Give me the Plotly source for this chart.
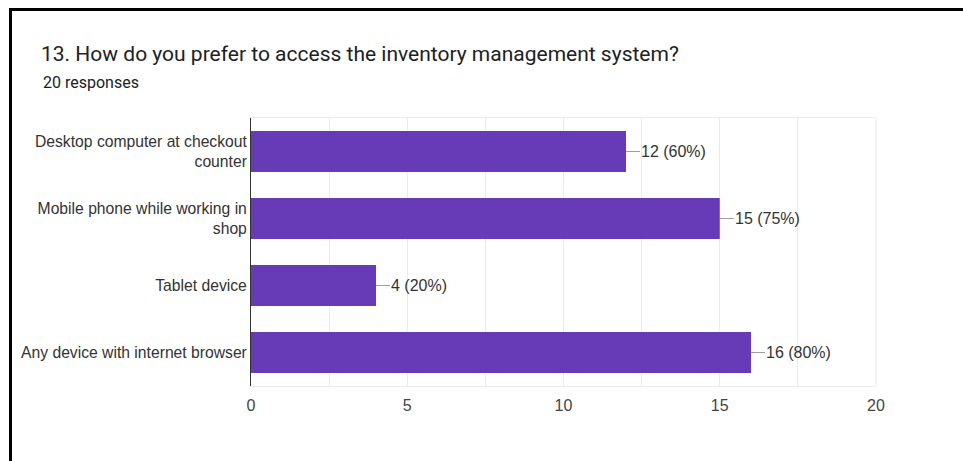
import plotly.graph_objects as go

# Survey results: preferred way of accessing the inventory system
categories = [
    "Desktop computer at checkout<br>counter",
    "Mobile phone while working in<br>shop",
    "Tablet device",
    "Any device with internet browser",
]
counts = [12, 15, 4, 16]
total_responses = 20
x_tick_values = [0, 5, 10, 15, 20]

title_text = "13. How do you prefer to access the inventory management system?"
subtitle_text = f"{total_responses} responses"

W, H = 963, 461
M_L, M_R, M_T, M_B = 251, 87, 118, 75
plot_w = W - M_L - M_R
plot_h = H - M_T - M_B


def px_to_paper_x(px):
    return (px - M_L) / plot_w


def px_to_paper_y(py):
    return (H - M_B - py) / plot_h


BAR_COLOR = "#673ab7"
TEXT_COLOR = "#333333"
GRID_COLOR = "#ebebeb"
CHART_FONT = "Arial, Liberation Sans, sans-serif"

fig = go.Figure(
    go.Bar(
        x=counts,
        y=categories,
        orientation="h",
        marker=dict(color=BAR_COLOR, line=dict(width=0)),
        hoverinfo="skip",
    )
)

# Value labels with short leader lines to the right of each bar
for cat, val in zip(categories, counts):
    pct = round(100 * val / total_responses)
    fig.add_annotation(
        x=val,
        y=cat,
        xref="x",
        yref="y",
        text=f"{val} ({pct}%)",
        showarrow=True,
        arrowhead=0,
        arrowwidth=1,
        arrowcolor="#9e9e9e",
        ax=14,
        ay=0,
        xanchor="left",
        borderpad=0,
        font=dict(family=CHART_FONT, size=16, color=TEXT_COLOR),
    )

# Subtitle with the response count
fig.add_annotation(
    x=px_to_paper_x(41),
    y=px_to_paper_y(82),
    xref="paper",
    yref="paper",
    text=subtitle_text,
    showarrow=False,
    xanchor="left",
    yanchor="middle",
    font=dict(family="Roboto, sans-serif", size=16, color="#202124"),
)

# Black frame along the top and left edges of the card
fig.add_shape(
    type="line",
    xref="paper",
    yref="paper",
    x0=px_to_paper_x(9),
    x1=px_to_paper_x(W + 5),
    y0=px_to_paper_y(9.5),
    y1=px_to_paper_y(9.5),
    line=dict(color="black", width=3),
)
fig.add_shape(
    type="line",
    xref="paper",
    yref="paper",
    x0=px_to_paper_x(10.5),
    x1=px_to_paper_x(10.5),
    y0=px_to_paper_y(8),
    y1=px_to_paper_y(H + 5),
    line=dict(color="black", width=3),
)
# Light right edge of the plot area
fig.add_shape(
    type="line",
    xref="paper",
    yref="paper",
    x0=1,
    x1=1,
    y0=0,
    y1=1,
    line=dict(color=GRID_COLOR, width=1),
)

fig.update_layout(
    width=W,
    height=H,
    margin=dict(l=M_L, r=M_R, t=M_T, b=M_B, pad=0),
    paper_bgcolor="white",
    plot_bgcolor="white",
    bargap=0.39,
    showlegend=False,
    title=dict(
        text=title_text,
        xref="container",
        yref="container",
        x=41 / W,
        xanchor="left",
        y=1 - 54 / H,
        yanchor="middle",
        font=dict(family="Roboto, sans-serif", size=21, color="#202124"),
    ),
    font=dict(family=CHART_FONT, size=15.7, color=TEXT_COLOR),
)

fig.update_xaxes(
    range=[0, 20],
    tickvals=x_tick_values,
    ticks="",
    showgrid=True,
    gridcolor=GRID_COLOR,
    gridwidth=1,
    minor=dict(dtick=2.5, showgrid=True, gridcolor=GRID_COLOR, gridwidth=1),
    showline=True,
    linecolor=GRID_COLOR,
    linewidth=1,
    mirror=True,
    zeroline=False,
    tickfont=dict(family=CHART_FONT, size=16, color="#444444"),
    ticklabelstandoff=5,
    fixedrange=True,
)

fig.update_yaxes(
    autorange="reversed",
    showline=True,
    linecolor="#333333",
    linewidth=1,
    showgrid=False,
    ticks="",
    ticklabelstandoff=0,
    tickfont=dict(family=CHART_FONT, size=15.7, color=TEXT_COLOR),
    fixedrange=True,
)

fig.write_html("out.html", config={"displayModeBar": False})
